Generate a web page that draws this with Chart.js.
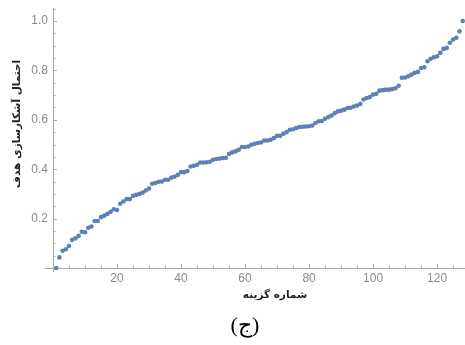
<!DOCTYPE html>
<html>
<head>
<meta charset="utf-8">
<script src="https://cdn.jsdelivr.net/npm/chart.js@4"></script>
<style>
  html, body { margin: 0; padding: 0; background: #fff; }
  #wrap { width: 465px; height: 345px; }
</style>
</head>
<body>
<div id="wrap"><canvas id="chart-gozine"></canvas></div>
<script>
// احتمال آشکارسازی هدف برای هر گزینه (خوانده شده از تصویر)
const probabilities = [
  0.0, 0.043, 0.07, 0.076, 0.089, 0.114, 0.12, 0.13, 0.147, 0.145,
  0.163, 0.168, 0.19, 0.19, 0.206, 0.212, 0.219, 0.228, 0.238, 0.235,
  0.26, 0.269, 0.279, 0.279, 0.292, 0.296, 0.30, 0.305, 0.314, 0.322,
  0.341, 0.344, 0.349, 0.35, 0.357, 0.357, 0.366, 0.37, 0.377, 0.388,
  0.388, 0.393, 0.411, 0.414, 0.418, 0.427, 0.427, 0.428, 0.43, 0.438,
  0.441, 0.443, 0.445, 0.446, 0.462, 0.468, 0.472, 0.479, 0.49, 0.49,
  0.492, 0.499, 0.503, 0.506, 0.508, 0.516, 0.516, 0.519, 0.526, 0.535,
  0.535, 0.544, 0.55, 0.56, 0.562, 0.567, 0.571, 0.572, 0.573, 0.574,
  0.577, 0.587, 0.594, 0.595, 0.604, 0.611, 0.617, 0.627, 0.634, 0.637,
  0.641, 0.648, 0.649, 0.654, 0.658, 0.664, 0.682, 0.688, 0.692, 0.702,
  0.705, 0.718, 0.72, 0.722, 0.722, 0.724, 0.728, 0.738, 0.77, 0.771,
  0.776, 0.783, 0.79, 0.794, 0.81, 0.813, 0.837, 0.847, 0.853, 0.857,
  0.871, 0.887, 0.891, 0.912, 0.925, 0.932, 0.958, 1.0
];
const optionNumbers = probabilities.map((p, i) => i + 1);

const xTicks = [20, 40, 60, 80, 100, 120];
const yTicks = [0.2, 0.4, 0.6, 0.8, 1.0];
const xMinorStep = 5;
const yMinorStep = 0.05;

const xTitle = "شماره گزینه";
const yTitle = "احتمال آشکارسازی هدف";
const caption = "(ج)";

const axisColor = "#aaaaaa";
const pointColor = "#5e81b5";

// axes crossing at the origin with inward ticks, like Mathematica
const axesPlugin = {
  id: "mmaAxes",
  beforeDatasetsDraw(chart) {
    const ctx = chart.ctx;
    const x = chart.scales.x;
    const y = chart.scales.y;
    const x0 = x.getPixelForValue(0);
    const y0 = y.getPixelForValue(0);
    ctx.save();
    ctx.strokeStyle = axisColor;
    ctx.lineWidth = 1;
    ctx.beginPath();
    ctx.moveTo(x0 - 8, y0 + 0.5);
    ctx.lineTo(chart.width, y0 + 0.5);
    ctx.moveTo(x0 + 0.5, 8);
    ctx.lineTo(x0 + 0.5, y0 + 4);
    for (let v = xMinorStep; v <= x.max; v += xMinorStep) {
      const px = Math.round(x.getPixelForValue(v)) + 0.5;
      const len = v % 20 === 0 ? 4 : 2.5;
      ctx.moveTo(px, y0);
      ctx.lineTo(px, y0 - len);
    }
    for (let k = 1; k * yMinorStep <= 1.05; k++) {
      const py = Math.round(y.getPixelForValue(k * yMinorStep)) + 0.5;
      const len = k % 4 === 0 ? 4 : 2.5;
      ctx.moveTo(x0, py);
      ctx.lineTo(x0 + len, py);
    }
    ctx.stroke();
    ctx.restore();
  },
  afterDraw(chart) {
    const ctx = chart.ctx;
    ctx.save();
    ctx.fillStyle = "#222";
    ctx.textAlign = "center";
    ctx.textBaseline = "middle";
    ctx.font = "bold 10.5px 'DejaVu Sans'";
    ctx.fillText(xTitle, 275, 295);
    ctx.save();
    ctx.translate(17, 124);
    ctx.rotate(-Math.PI / 2);
    ctx.fillText(yTitle, 0, 0);
    ctx.restore();
    ctx.fillStyle = "#000";
    ctx.font = "22px 'Liberation Serif', 'DejaVu Sans'";
    ctx.fillText(caption, 245, 326);
    ctx.restore();
  }
};

new Chart(document.getElementById("chart-gozine"), {
  type: "scatter",
  data: {
    datasets: [
      {
        data: optionNumbers.map((n, i) => ({ x: n, y: probabilities[i] })),
        backgroundColor: pointColor,
        borderWidth: 0,
        pointRadius: 2.3,
        pointHoverRadius: 2.3,
        clip: false,
      },
    ],
  },
  options: {
    responsive: true,
    maintainAspectRatio: false,
    animation: false,
    layout: {
      padding: { left: 0, right: 0, top: 21, bottom: 0 },
    },
    plugins: {
      legend: { display: false },
      tooltip: { enabled: false },
    },
    scales: {
      x: {
        type: "linear",
        min: 0,
        max: 128,
        grid: { display: false, drawTicks: false },
        border: { display: false },
        afterBuildTicks: (scale) => {
          scale.ticks = xTicks.map((v) => ({ value: v }));
        },
        afterFit: (scale) => {
          scale.height = 77;
        },
        ticks: {
          padding: 3,
          maxRotation: 0,
          color: "#8a8a8a",
          font: { family: "'Liberation Sans'", size: 12 },
        },
      },
      y: {
        min: 0,
        max: 1,
        grid: { display: false, drawTicks: false },
        border: { display: false },
        afterBuildTicks: (scale) => {
          scale.ticks = yTicks.map((v) => ({ value: v }));
        },
        afterFit: (scale) => {
          scale.width = 53;
        },
        ticks: {
          padding: 5,
          color: "#8a8a8a",
          font: { family: "'Liberation Sans'", size: 12 },
          callback: (v) => v.toFixed(1),
        },
      },
    },
  },
  plugins: [axesPlugin],
});
</script>
</body>
</html>
